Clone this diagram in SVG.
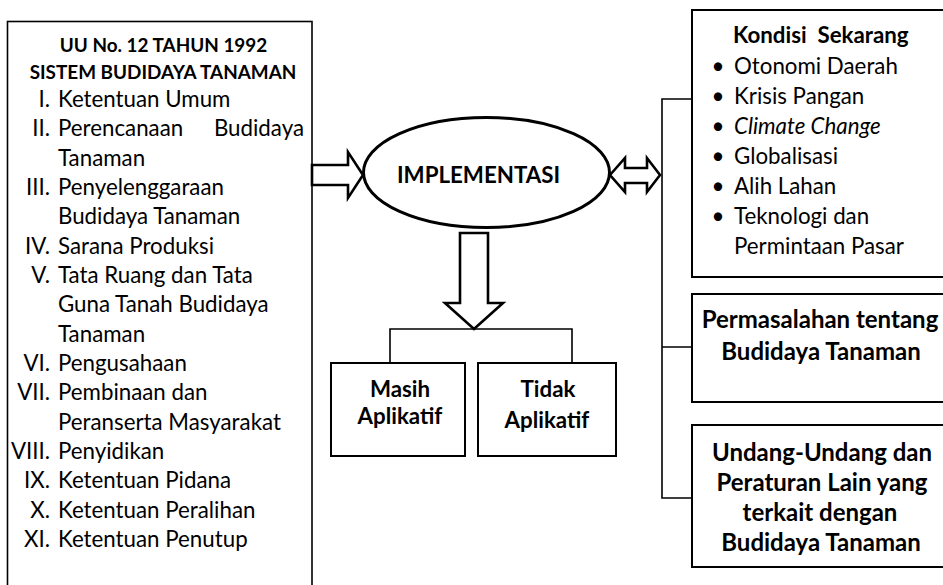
<svg xmlns="http://www.w3.org/2000/svg" width="943" height="585" viewBox="0 0 943 585">
<style>
text{font-family:Lato,"Open Sans","Liberation Sans",sans-serif;fill:#000}
.t{font-size:22.3px}
.b{font-size:22.3px;font-weight:bold}
.bb{font-size:24px;font-weight:bold;text-anchor:middle}
.h{font-size:18.9px;font-weight:bold}
.n{text-anchor:end}
.m{text-anchor:middle}
.box{fill:#fff;stroke:#000;stroke-width:2}
.line{fill:none;stroke:#000;stroke-width:1.6}
.arr{fill:#fff;stroke:#000;stroke-width:2.6;stroke-linejoin:miter}
</style>
<rect width="943" height="585" fill="#fff"/>
<g id="uu-box">
<rect x="7.5" y="21.5" width="304.5" height="570" fill="#fff" stroke="#000" stroke-width="1.6"/>
<text class="h m" x="163.5" y="52">UU No. 12 TAHUN 1992</text>
<text class="h m" x="163" y="79">SISTEM BUDIDAYA TANAMAN</text>
<text class="t n" x="50" y="107">I.</text><text class="t" x="58" y="107">Ketentuan Umum</text>
<text class="t n" x="50" y="136.3">II.</text><text class="t" x="58" y="136.3">Perencanaan</text><text class="t n" x="304" y="136.3">Budidaya</text>
<text class="t" x="58" y="165.7">Tanaman</text>
<text class="t n" x="50" y="195">III.</text><text class="t" x="58" y="195">Penyelenggaraan</text>
<text class="t" x="58" y="224.3">Budidaya Tanaman</text>
<text class="t n" x="50" y="253.7">IV.</text><text class="t" x="58" y="253.7">Sarana Produksi</text>
<text class="t n" x="50" y="283">V.</text><text class="t" x="58" y="283">Tata Ruang dan Tata</text>
<text class="t" x="58" y="312.3">Guna Tanah Budidaya</text>
<text class="t" x="58" y="341.7">Tanaman</text>
<text class="t n" x="50" y="371">VI.</text><text class="t" x="58" y="371">Pengusahaan</text>
<text class="t n" x="50" y="400.3">VII.</text><text class="t" x="58" y="400.3">Pembinaan dan</text>
<text class="t" x="58" y="429.7">Peranserta Masyarakat</text>
<text class="t n" x="50" y="459">VIII.</text><text class="t" x="58" y="459">Penyidikan</text>
<text class="t n" x="50" y="488.3">IX.</text><text class="t" x="58" y="488.3">Ketentuan Pidana</text>
<text class="t n" x="50" y="517.7">X.</text><text class="t" x="58" y="517.7">Ketentuan Peralihan</text>
<text class="t n" x="50" y="547">XI.</text><text class="t" x="58" y="547">Ketentuan Penutup</text>
</g>
<g id="implementasi">
<ellipse cx="486.5" cy="172.5" rx="123" ry="55" fill="#fff" stroke="#000" stroke-width="3"/>
<text class="b m" x="478.5" y="183">IMPLEMENTASI</text>
</g>
<g id="masih">
<rect class="box" x="331" y="363" width="134" height="93"/>
<text class="b m" x="400" y="397">Masih</text>
<text class="b m" x="400" y="424">Aplikatif</text>
</g>
<g id="tidak">
<rect class="box" x="478" y="363" width="138" height="93"/>
<text class="b m" x="548" y="397">Tidak</text>
<text class="b m" x="547" y="428">Aplikatif</text>
</g>
<g id="kondisi">
<rect class="box" x="692" y="10" width="262" height="267"/>
<text class="b" x="733" y="43" style="white-space:pre" xml:space="preserve">Kondisi  Sekarang</text>
<text class="t m" x="718" y="74">•</text><text class="t" x="734" y="74">Otonomi Daerah</text>
<text class="t m" x="718" y="104">•</text><text class="t" x="734" y="104">Krisis Pangan</text>
<text class="t m" x="718" y="134">•</text><text class="t" x="734" y="134" font-style="italic">Climate Change</text>
<text class="t m" x="718" y="164">•</text><text class="t" x="734" y="164">Globalisasi</text>
<text class="t m" x="718" y="194">•</text><text class="t" x="734" y="194">Alih Lahan</text>
<text class="t m" x="718" y="224">•</text><text class="t" x="734" y="224">Teknologi dan</text>
<text class="t" x="734" y="254">Permintaan Pasar</text>
</g>
<g id="permasalahan">
<rect class="box" x="692" y="294" width="262" height="108"/>
<text class="bb" x="820" y="328">Permasalahan tentang</text>
<text class="bb" x="821" y="360">Budidaya Tanaman</text>
</g>
<g id="undang">
<rect class="box" x="692" y="425" width="262" height="142"/>
<text class="bb" x="822" y="461">Undang-Undang dan</text>
<text class="bb" x="822" y="491">Peraturan Lain yang</text>
<text class="bb" x="820" y="521">terkait dengan</text>
<text class="bb" x="821" y="551">Budidaya Tanaman</text>
</g>
<g id="connectors">
<polygon class="arr" points="312,165 348,165 348,152 363,175 348,198 348,185 312,185"/>
<polygon class="arr" points="610,175 625,158 625,168 647,168 647,158 660,175 647,192 647,183 625,183 625,192"/>
<polygon class="arr" points="460,233 488,233 488,303 503,303 474,329 445,303 460,303"/>
<path class="line" d="M390,363 V329 H572 V363"/>
<path class="line" d="M692,99 H662 V498 H692 M662,347 H692"/>
</g>
</svg>
